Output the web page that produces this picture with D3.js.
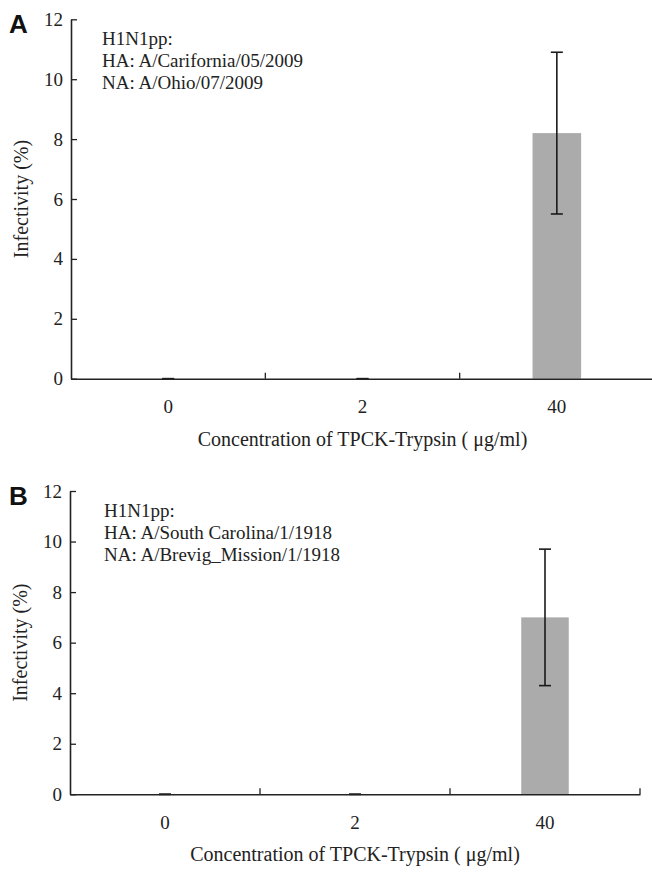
<!DOCTYPE html>
<html>
<head>
<meta charset="utf-8">
<script src="https://cdn.jsdelivr.net/npm/d3@7"></script>
<style>
  body { margin: 0; background: #fff; }
  text { font-family: "Liberation Serif", "Times New Roman", serif; fill: #222; }
</style>
</head>
<body>
<svg id="chart"></svg>
<script>
// data

var concentrations = ["0", "2", "40"];
var yTickValues = [0, 2, 4, 6, 8, 10, 12];

var infectivityA = [0, 0, 8.2];
var errorA = [0, 0, 2.7];
var virusA = ["H1N1pp:", "HA: A/Carifornia/05/2009", "NA: A/Ohio/07/2009"];

var infectivityB = [0, 0, 7.0];
var errorB = [0, 0, 2.7];
var virusB = ["H1N1pp:", "HA: A/South Carolina/1/1918", "NA: A/Brevig_Mission/1/1918"];

var xTitle = "Concentration of TPCK-Trypsin ( \u03bcg/ml)";
var yTitle = "Infectivity (%)";

// svg

var svgWidth = 652, svgHeight = 877;

var svg = d3.select("#chart")
    .attr("width", svgWidth)
    .attr("height", svgHeight);

function drawPanel(p) {
  var x = d3.scaleBand()
      .domain(concentrations)
      .range([p.left, p.right])
      .padding(0);

  var y = d3.scaleLinear()
      .domain([0, 12])
      .range([p.bottom, p.top]);

  var g = svg.append("g");

  // bars
  var barW = x.bandwidth() * 0.25;
  g.selectAll("rect")
    .data(p.values)
    .enter()
    .append("rect")
    .attr("x", function (d, i) { return x(concentrations[i]) + x.bandwidth() / 2 - barW / 2; })
    .attr("y", function (d) { return y(d); })
    .attr("width", barW)
    .attr("height", function (d) { return y(0) - y(d); })
    .attr("fill", "#ababab");

  // error bars
  var eb = g.selectAll("g.err")
    .data(p.values)
    .enter()
    .append("g")
    .attr("class", "err")
    .attr("stroke", "#1a1a1a")
    .attr("stroke-width", 1.6);
  eb.append("line")
    .attr("x1", function (d, i) { return x(concentrations[i]) + x.bandwidth() / 2; })
    .attr("x2", function (d, i) { return x(concentrations[i]) + x.bandwidth() / 2; })
    .attr("y1", function (d, i) { return y(d - p.errors[i]); })
    .attr("y2", function (d, i) { return y(d + p.errors[i]); });
  [-1, 1].forEach(function (s) {
    eb.append("line")
      .attr("x1", function (d, i) { return x(concentrations[i]) + x.bandwidth() / 2 - 6; })
      .attr("x2", function (d, i) { return x(concentrations[i]) + x.bandwidth() / 2 + 6; })
      .attr("y1", function (d, i) { return y(d + s * p.errors[i]); })
      .attr("y2", function (d, i) { return y(d + s * p.errors[i]); });
  });

  // y axis, ticks pointing inwards
  var yAxis = g.append("g")
    .attr("transform", "translate(" + p.left + ",0)")
    .call(d3.axisLeft(y).tickValues(yTickValues).tickSizeInner(-6).tickSizeOuter(0).tickPadding(8));
  yAxis.selectAll("text").style("font-size", "19px").attr("font-family", null);

  // x axis
  var xAxis = g.append("g")
    .attr("transform", "translate(0," + p.bottom + ")")
    .call(d3.axisBottom(x).tickSize(0).tickPadding(21));
  xAxis.selectAll("text").style("font-size", "19px").attr("font-family", null);
  g.selectAll(".domain").attr("stroke", "#222").attr("stroke-width", 1.6);
  g.selectAll(".tick line").attr("stroke", "#222").attr("stroke-width", 1.3);

  // category boundary ticks on the x axis
  g.selectAll("line.sep")
    .data(d3.range(1, concentrations.length + 1))
    .enter()
    .append("line")
    .attr("class", "sep")
    .attr("x1", function (i) { return p.left + i * x.step(); })
    .attr("x2", function (i) { return p.left + i * x.step(); })
    .attr("y1", p.bottom)
    .attr("y2", p.bottom - 6)
    .attr("stroke", "#222")
    .attr("stroke-width", 1.3);

  // titles
  g.append("text")
    .attr("x", (p.left + p.right) / 2)
    .attr("y", p.bottom + 67)
    .attr("text-anchor", "middle")
    .style("font-size", "20px")
    .text(xTitle);

  g.append("text")
    .attr("transform", "translate(" + (p.left - 43) + "," + ((p.top + p.bottom) / 2) + ") rotate(-90)")
    .attr("text-anchor", "middle")
    .style("font-size", "20px")
    .text(yTitle);

  // panel letter
  g.append("text")
    .attr("x", 9)
    .attr("y", p.top + 14)
    .style("font-family", "'Liberation Sans', Arial, sans-serif")
    .style("font-weight", "bold")
    .style("font-size", "26px")
    .style("fill", "#111")
    .text(p.letter);

  // virus annotation
  g.selectAll("text.note")
    .data(p.notes)
    .enter()
    .append("text")
    .attr("class", "note")
    .attr("x", p.left + p.noteDx)
    .attr("y", function (d, i) { return p.top + 26 + i * 22; })
    .style("font-size", "19px")
    .text(function (d) { return d; });
}

drawPanel({letter: "A", values: infectivityA, errors: errorA, notes: virusA, noteDx: 31,
           left: 71, right: 654, top: 19.3, bottom: 378.7});
drawPanel({letter: "B", values: infectivityB, errors: errorB, notes: virusB, noteDx: 34,
           left: 70, right: 640, top: 491, bottom: 794.3});
</script>
</body>
</html>
